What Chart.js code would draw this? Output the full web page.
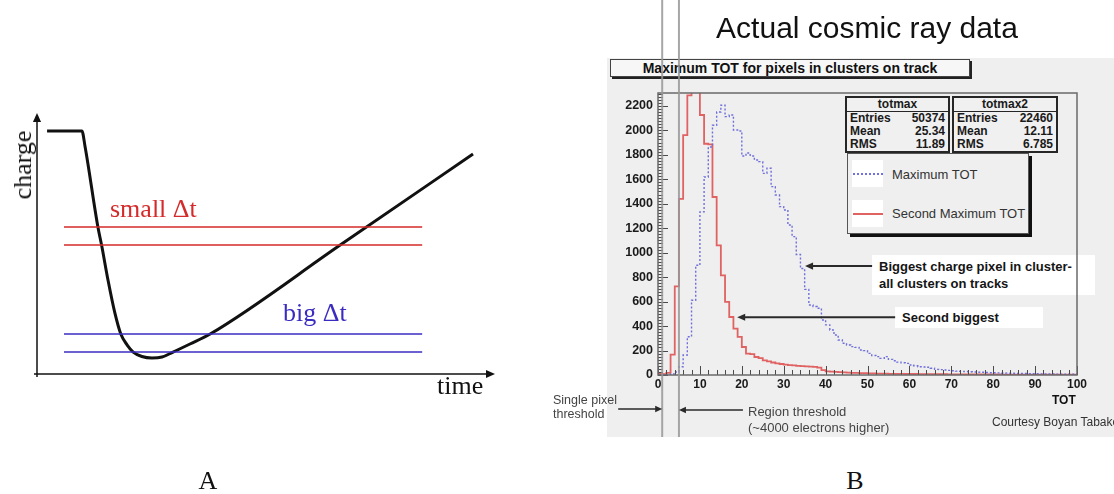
<!DOCTYPE html>
<html>
<head>
<meta charset="utf-8">
<title>TOT pulse and cosmic ray data</title>
<script src="https://cdn.jsdelivr.net/npm/chart.js@4.4.1/dist/chart.umd.min.js"></script>
<style>
  body { margin: 0; width: 1114px; height: 494px; overflow: hidden; position: relative; background: #fff;
         font-family: "Liberation Sans", Arial, sans-serif; }
  .abs { position: absolute; white-space: nowrap; }
  canvas { position: absolute; z-index: 1; }
  .under { z-index: 0; }
  .over { z-index: 2; }
  .serif { font-family: "Liberation Serif", "Times New Roman", serif; font-size: 26px; line-height: 26px; }
  .stats { position: absolute; top: 96px; height: 53px; border: 2px solid #262626; background: #f0f0f0;
           font-weight: bold; font-size: 12px; color: #1a1a1a; z-index: 0; }
  .stats .hdr { height: 13px; line-height: 13px; text-align: center; border-bottom: 1px solid #262626; }
  .stats .row { display: flex; justify-content: space-between; height: 13px; line-height: 13px; padding: 0 3px; }
  .note { position: absolute; background: #fff; font-weight: bold; font-size: 13px; color: #151515; z-index: 0; }
</style>
</head>
<body>

<!-- panel A -->
<canvas id="pulseChart" width="540" height="494" style="left:0;top:0"></canvas>
<div class="abs serif over" style="left:23px;top:165px;transform:translate(-50%,-50%) rotate(-90deg);color:#111">charge</div>
<div class="abs serif over" style="left:437px;top:373px;color:#111">time</div>
<div class="abs serif over" style="left:110px;top:196px;color:#d42a2a">small &Delta;t</div>
<div class="abs serif over" style="left:283px;top:300px;color:#3a2cc0">big &Delta;t</div>
<div class="abs serif over" style="left:208px;top:468px;transform:translateX(-50%);color:#111">A</div>

<!-- panel B -->
<div class="abs under" style="left:607px;top:58px;width:507px;height:379px;background:#efefef"></div>
<div class="abs under" style="left:610px;top:59px;width:358px;height:16px;background:#f7f7f7;border:1px solid #444;box-shadow:2px 2px 0 #222;font-weight:bold;font-size:14px;line-height:16px;text-align:center;color:#111">Maximum TOT for pixels in clusters on track</div>

<div class="stats" style="left:845px;width:101px">
  <div class="hdr">totmax</div>
  <div class="row"><span>Entries</span><span>50374</span></div>
  <div class="row"><span>Mean</span><span>25.34</span></div>
  <div class="row"><span>RMS</span><span>11.89</span></div>
</div>
<div class="stats" style="left:952px;width:102px">
  <div class="hdr">totmax2</div>
  <div class="row"><span>Entries</span><span>22460</span></div>
  <div class="row"><span>Mean</span><span>12.11</span></div>
  <div class="row"><span>RMS</span><span>6.785</span></div>
</div>

<div class="abs under" style="left:847px;top:153px;width:180px;height:79px;border:1px solid #555;box-shadow:3px 3px 0 #111;background:#efefef">
  <div class="abs" style="left:4px;top:6px;width:31px;height:27px;background:#fff">
    <div class="abs" style="left:1px;top:13px;width:30px;border-top:2px dotted #7070e0"></div>
  </div>
  <div class="abs" style="left:44px;top:13px;font-size:13px;line-height:16px;color:#333">Maximum TOT</div>
  <div class="abs" style="left:4px;top:46px;width:31px;height:27px;background:#fff">
    <div class="abs" style="left:1px;top:13px;width:30px;border-top:2px solid #e06262"></div>
  </div>
  <div class="abs" style="left:44px;top:52px;font-size:13px;line-height:16px;color:#333">Second Maximum TOT</div>
</div>

<div class="note" style="left:872px;top:255px;width:223px;height:40px">
  <div class="abs" style="left:7px;top:4px;line-height:16px">Biggest charge pixel in cluster-</div>
  <div class="abs" style="left:7px;top:21px;line-height:16px">all clusters on tracks</div>
</div>
<div class="note" style="left:895px;top:307px;width:148px;height:21px">
  <div class="abs" style="left:7px;top:3px;line-height:16px">Second biggest</div>
</div>

<canvas id="totChart" width="564" height="445" style="left:550px;top:0"></canvas>

<div class="abs over" style="left:867px;top:13px;transform:translateX(-50%);font-size:30px;line-height:30px;color:#111">Actual cosmic ray data</div>
<div class="abs over" style="left:1052px;top:393px;font-weight:bold;font-size:12px;line-height:14px;color:#111">TOT</div>
<div class="abs over" style="left:553px;top:393px;font-size:12.5px;line-height:14px;color:#444">Single pixel<br>threshold</div>
<div class="abs over" style="left:748px;top:404px;font-size:13px;line-height:16px;color:#444">Region threshold<br>(~4000 electrons higher)</div>
<div class="abs over" style="left:992px;top:415px;font-size:12px;line-height:14px;color:#333">Courtesy Boyan Tabakov</div>
<div class="abs serif over" style="left:855px;top:468px;transform:translateX(-50%);color:#111">B</div>

<script>
// panel A: sketch of a pulse crossing two pairs of thresholds
const pulseTime   = [2.2, 9.8, 10.5, 13.3, 14.1, 15.5, 17.0, 18.3, 19.7, 21.0, 22.9, 25.1, 27.3, 29.7, 33.4, 37.8, 66.2, 95.2];
const pulseCharge = [93.1, 93.1, 87.1, 56.3, 49.4, 36.0, 23.4, 15.3, 11.1, 8.4, 6.7, 6.1, 6.5, 8.4, 11.5, 15.3, 49.4, 84.3];
const levelSpan = [5.9, 84.1];
const smallDtLevels = [56.3, 49.4];
const bigDtLevels = [15.3, 8.4];

// panel B: ROOT histograms, one bin per TOT unit (left edges)
const maxTotCounts = [
  0, 0, 0, 3, 8, 25, 68, 163, 313, 611,
  897, 1333, 1619, 1864, 2041, 2150, 2205, 2112, 2125, 2003,
  1995, 1790, 1815, 1790, 1757, 1744, 1648, 1690, 1540, 1471,
  1376, 1349, 1226, 1131, 985, 870, 700, 572, 560, 545,
  450, 410, 368, 327, 286, 259, 245, 232, 226, 204,
  199, 177, 160, 150, 136, 150, 128, 117, 105, 100,
  95, 82, 75, 68, 66, 63, 55, 46, 44, 41,
  38, 35, 32, 30, 28, 26, 25, 23, 22, 20,
  19, 18, 17, 16, 15, 14, 13, 12, 12, 11,
  10, 10, 9, 9, 8, 8, 7, 7, 6, 6, 6
];
const secondMaxTotCounts = [
  5, 8, 6, 18, 166, 725, 1440, 1960, 2285, 2480,
  2420, 2125, 1890, 1885, 1455, 1060, 815, 597, 474, 379,
  311, 229, 174, 170, 147, 138, 120, 112, 102, 95,
  90, 85, 80, 78, 75, 72, 70, 68, 66, 60,
  40, 30, 27, 25, 23, 21, 20, 18, 17, 16,
  15, 14, 13, 12, 12, 11, 10, 10, 9, 9,
  8, 8, 8, 7, 7, 7, 6, 6, 6, 6,
  5, 5, 5, 5, 5, 5, 4, 4, 4, 4,
  4, 4, 4, 3, 3, 3, 3, 3, 3, 3,
  3, 3, 2, 2, 2, 2, 2, 2, 2, 2, 2
];
const binWidth = 1;
const totEdges = maxTotCounts.map((_, i) => i * binWidth);
const xTickValues = [0, 10, 20, 30, 40, 50, 60, 70, 80, 90, 100];
const yTickValues = [0, 200, 400, 600, 800, 1000, 1200, 1400, 1600, 1800, 2000, 2200];
const yMax = 2305;
const thresholds = [1, 5];
// arrow tips / tails in TOT, counts
const noteArrows = [
  { fromX: 51.1, toX: 35.1, y: 890 },
  { fromX: 56.6, toX: 18.9, y: 472 }
];

const FONT = '"Liberation Sans", Arial, sans-serif';

function arrow(ctx, x0, y0, x1, y1, head) {
  const ang = Math.atan2(y1 - y0, x1 - x0);
  ctx.beginPath();
  ctx.moveTo(x0, y0);
  ctx.lineTo(x1 - Math.cos(ang) * head * 0.8, y1 - Math.sin(ang) * head * 0.8);
  ctx.stroke();
  ctx.beginPath();
  ctx.moveTo(x1, y1);
  ctx.lineTo(x1 - head * Math.cos(ang) + head * 0.45 * Math.sin(ang), y1 - head * Math.sin(ang) - head * 0.45 * Math.cos(ang));
  ctx.lineTo(x1 - head * Math.cos(ang) - head * 0.45 * Math.sin(ang), y1 - head * Math.sin(ang) + head * 0.45 * Math.cos(ang));
  ctx.closePath();
  ctx.fill();
}

const sketchAxes = {
  id: 'sketchAxes',
  beforeDatasetsDraw(chart) {
    const { ctx, chartArea: a } = chart;
    ctx.save();
    ctx.strokeStyle = '#111';
    ctx.fillStyle = '#111';
    ctx.lineWidth = 1.5;
    arrow(ctx, a.left - 3, a.bottom, a.right, a.bottom, 9);
    arrow(ctx, a.left, a.bottom + 3, a.left, a.top, 9);
    ctx.restore();
  }
};

function levelLine(level, color) {
  return {
    data: levelSpan.map(t => ({ x: t, y: level })),
    borderColor: color, borderWidth: 1.5, pointRadius: 0, tension: 0
  };
}

new Chart(document.getElementById('pulseChart'), {
  type: 'line',
  data: {
    datasets: [
      ...smallDtLevels.map(l => levelLine(l, '#d42a2a')),
      ...bigDtLevels.map(l => levelLine(l, '#3a2cc0')),
      {
        data: pulseTime.map((t, i) => ({ x: t, y: pulseCharge[i] })),
        borderColor: '#111', borderWidth: 3, pointRadius: 0,
        cubicInterpolationMode: 'monotone'
      }
    ]
  },
  options: {
    responsive: false,
    animation: false,
    layout: { padding: { left: 37, right: 45, top: 113, bottom: 120 } },
    plugins: { legend: { display: false }, tooltip: { enabled: false } },
    scales: {
      x: { type: 'linear', min: 0, max: 100, display: false },
      y: { type: 'linear', min: 0, max: 100, display: false }
    }
  },
  plugins: [sketchAxes]
});

const rootDecor = {
  id: 'rootDecor',
  afterDraw(chart) {
    const { ctx, chartArea: a, scales: { x, y } } = chart;
    ctx.save();
    // inside ticks, ROOT style
    ctx.strokeStyle = '#4a4a4a';
    ctx.lineWidth = 1;
    ctx.beginPath();
    for (let v = 0; v <= yMax; v += 25) {
      const py = Math.round(y.getPixelForValue(v)) + 0.5;
      const len = v % 200 === 0 ? 10 : 5;
      ctx.moveTo(a.left, py);
      ctx.lineTo(a.left + len, py);
    }
    for (let v = 0; v <= 100; v += 2) {
      const px = Math.round(x.getPixelForValue(v)) + 0.5;
      const len = v % 10 === 0 ? 9 : 5;
      ctx.moveTo(px, a.bottom);
      ctx.lineTo(px, a.bottom - len);
    }
    ctx.stroke();
    // frame
    ctx.strokeStyle = '#6a6a6a';
    ctx.lineWidth = 1.5;
    ctx.strokeRect(a.left, a.top, a.right - a.left, a.bottom - a.top);
    // threshold lines
    ctx.strokeStyle = 'rgba(150,150,150,0.85)';
    ctx.lineWidth = 2;
    const thrPx = thresholds.map(t => x.getPixelForValue(t));
    thrPx.forEach(px => {
      ctx.beginPath();
      ctx.moveTo(px, 0);
      ctx.lineTo(px, 437);
      ctx.stroke();
    });
    // arrows
    ctx.strokeStyle = '#2a2a2a';
    ctx.fillStyle = '#2a2a2a';
    ctx.lineWidth = 2;
    noteArrows.forEach(n => {
      const py = y.getPixelForValue(n.y);
      arrow(ctx, x.getPixelForValue(n.fromX), py, x.getPixelForValue(n.toX), py, 8);
    });
    ctx.lineWidth = 1.5;
    arrow(ctx, thrPx[0] - 44, 409, thrPx[0], 409, 7);
    arrow(ctx, thrPx[1] + 64, 410, thrPx[1], 410, 7);
    ctx.restore();
  }
};

function histSeries(label, counts, color, width, dash) {
  return {
    label: label,
    data: counts.map((c, i) => ({ x: totEdges[i], y: c })),
    borderColor: color, borderWidth: width, borderDash: dash,
    stepped: 'after', pointRadius: 0, fill: false
  };
}

new Chart(document.getElementById('totChart'), {
  type: 'line',
  data: {
    datasets: [
      histSeries('Maximum TOT', maxTotCounts, '#6e6edc', 1.4, [2, 2]),
      histSeries('Second Maximum TOT', secondMaxTotCounts, '#e06262', 1.8, [])
    ]
  },
  options: {
    responsive: false,
    animation: false,
    layout: { padding: { left: 58, right: 37, top: 93, bottom: 45 } },
    plugins: { legend: { display: false }, tooltip: { enabled: false } },
    scales: {
      x: {
        type: 'linear', min: 0, max: 100,
        grid: { display: false, drawTicks: false },
        border: { display: false },
        afterBuildTicks: s => { s.ticks = xTickValues.map(v => ({ value: v })); },
        afterFit: s => { s.height = 25; },
        ticks: { callback: v => String(v), autoSkip: false, maxRotation: 0, padding: 2,
                 color: '#1a1a1a', font: { family: FONT, size: 12, weight: 'bold' } }
      },
      y: {
        type: 'linear', min: 0, max: yMax,
        grid: { display: false, drawTicks: false },
        border: { display: false },
        afterBuildTicks: s => { s.ticks = yTickValues.map(v => ({ value: v })); },
        afterFit: s => { s.width = 50; },
        ticks: { callback: v => String(v), autoSkip: false, padding: 5,
                 color: '#1a1a1a', font: { family: FONT, size: 12.5, weight: 'bold' } }
      }
    }
  },
  plugins: [rootDecor]
});
</script>
</body>
</html>
